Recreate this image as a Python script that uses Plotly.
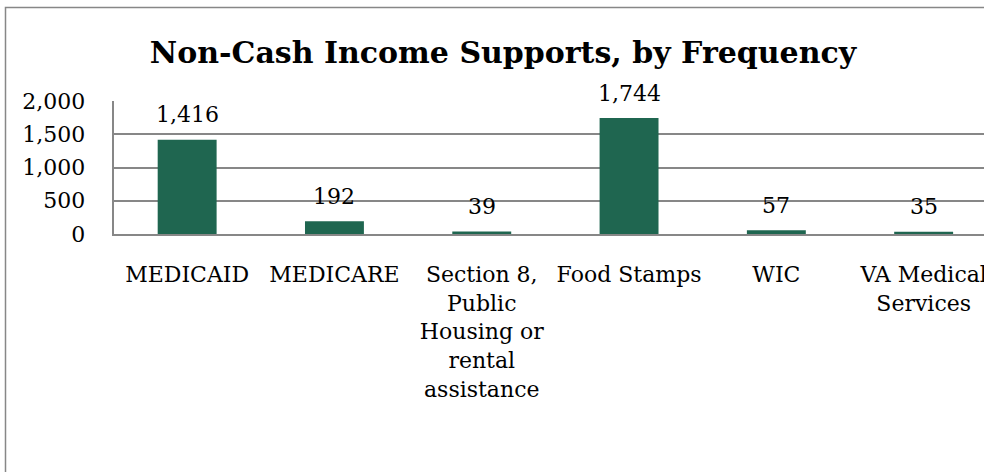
import plotly.graph_objects as go

categories = ["MEDICAID", "MEDICARE", "Section 8,<br>Public<br>Housing or<br>rental<br>assistance",
              "Food Stamps", "WIC", "VA Medical<br>Services"]
values = [1416, 192, 39, 1744, 57, 35]
value_labels = ["1,416", "192", "39", "1,744", "57", "35"]
y_ticks = [0, 500, 1000, 1500, 2000]
y_tick_labels = ["0", "500", "1,000", "1,500", "2,000"]

W, H = 984, 472
FONT = "DejaVu Serif"
GRAY = "#878787"

fig = go.Figure()
fig.add_trace(go.Bar(
    x=list(range(len(categories))), y=values, width=0.4,
    marker=dict(color="#1F6650", line=dict(width=0)),
    hoverinfo="skip",
))

for i, (v, lab) in enumerate(zip(values, value_labels)):
    fig.add_annotation(x=i, y=v, xref="x", yref="y", text=lab, showarrow=False,
                       yanchor="middle", yshift=25,
                       font=dict(family=FONT, size=22, color="#000000"))

fig.update_layout(
    width=W, height=H, autosize=False,
    margin=dict(l=0, r=0, t=0, b=0, pad=0, autoexpand=False),
    paper_bgcolor="white", plot_bgcolor="white",
    showlegend=False,
    title=dict(text="<b>Non-Cash Income Supports, by Frequency</b>",
               x=503 / W, xanchor="center", xref="container",
               y=1 - 52 / H, yanchor="middle", yref="container",
               font=dict(family=FONT, size=30, color="#000000")),
    xaxis=dict(domain=[113.5 / W, 1], range=[-0.5, -0.5 + (W - 113.5) / 147.3],
               automargin=False, ticklabeloverflow="allow",
               tickmode="array", tickvals=list(range(len(categories))), ticktext=categories,
               showgrid=False, zeroline=False, showline=True, linecolor=GRAY, linewidth=1.5,
               ticks="outside", ticklen=20, tickcolor="rgba(0,0,0,0)",
               tickfont=dict(family=FONT, size=22, color="#000000"), tickangle=0),
    yaxis=dict(domain=[(H - 234) / H, (H - 101) / H], range=[0, 2000],
               automargin=False,
               tickmode="array", tickvals=y_ticks, ticktext=y_tick_labels,
               showgrid=True, gridcolor=GRAY, gridwidth=1.5, zeroline=False,
               showline=True, linecolor=GRAY, linewidth=1.5,
               ticks="outside", ticklen=22, tickcolor="rgba(0,0,0,0)",
               tickfont=dict(family=FONT, size=22, color="#000000")),
    shapes=[dict(type="rect", xref="paper", yref="paper",
                 x0=5.5 / W, x1=1.1, y0=-0.1, y1=1 - 7.5 / H,
                 line=dict(color=GRAY, width=1.5), fillcolor="rgba(0,0,0,0)", layer="below")],
)

fig.write_html("out.html", config={"displayModeBar": False},
               post_script="document.body.style.margin='0px';document.body.style.overflow='hidden';")
